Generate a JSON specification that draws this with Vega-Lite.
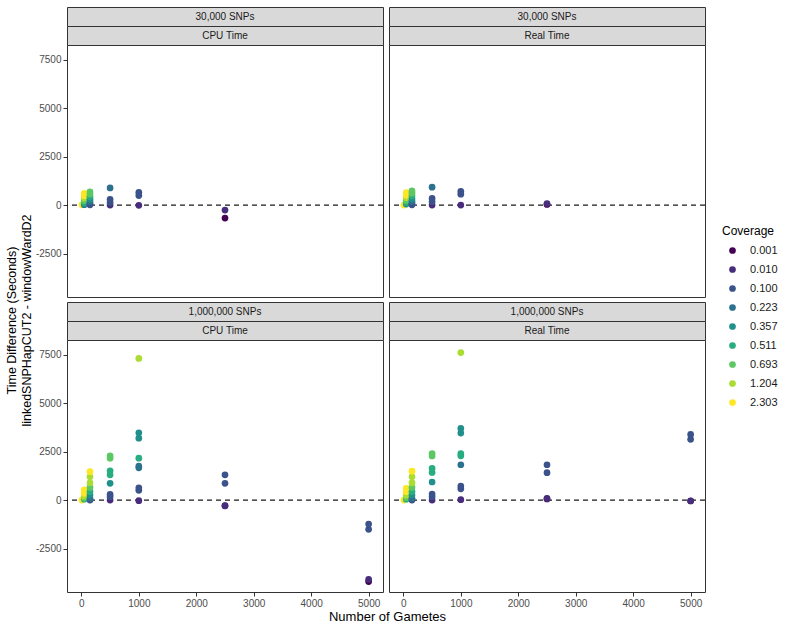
{
  "$schema": "https://vega.github.io/schema/vega-lite/v6.json",
  "padding": {"left": 5, "top": 6, "right": 5, "bottom": 5},
  "config": {
    "font": "Liberation Sans",
    "view": {"stroke": "#333333"},
    "axis": {"grid": false, "domain": false, "tickColor": "#333333", "tickSize": 4, "labelColor": "#4D4D4D", "labelFontSize": 10, "labelPadding": 2, "titleFontSize": 12.5, "titleFontWeight": "normal", "titleColor": "#000000", "titlePadding": 2, "labelExpr": "'' + datum.value"},
    "legend": {"titleFontSize": 12, "titleFontWeight": "normal", "titleColor": "#000000", "labelFontSize": 11, "labelColor": "#1A1A1A", "rowPadding": 7, "titlePadding": 7, "symbolOffset": 5, "labelOffset": 12, "symbolType": "circle", "symbolSize": 45}
  },
  "datasets": {
    "points": [
      {"SNPs": "30,000 SNPs", "Time": "CPU Time", "Gametes": 10, "Coverage": "2.303", "Diff": 10},
      {"SNPs": "30,000 SNPs", "Time": "CPU Time", "Gametes": 50, "Coverage": "0.223", "Diff": 20},
      {"SNPs": "30,000 SNPs", "Time": "CPU Time", "Gametes": 50, "Coverage": "0.357", "Diff": 60},
      {"SNPs": "30,000 SNPs", "Time": "CPU Time", "Gametes": 50, "Coverage": "0.511", "Diff": 130},
      {"SNPs": "30,000 SNPs", "Time": "CPU Time", "Gametes": 50, "Coverage": "0.693", "Diff": 230},
      {"SNPs": "30,000 SNPs", "Time": "CPU Time", "Gametes": 50, "Coverage": "1.204", "Diff": 360},
      {"SNPs": "30,000 SNPs", "Time": "CPU Time", "Gametes": 50, "Coverage": "2.303", "Diff": 480},
      {"SNPs": "30,000 SNPs", "Time": "CPU Time", "Gametes": 50, "Coverage": "2.303", "Diff": 600},
      {"SNPs": "30,000 SNPs", "Time": "CPU Time", "Gametes": 150, "Coverage": "0.100", "Diff": 10},
      {"SNPs": "30,000 SNPs", "Time": "CPU Time", "Gametes": 150, "Coverage": "0.100", "Diff": 80},
      {"SNPs": "30,000 SNPs", "Time": "CPU Time", "Gametes": 150, "Coverage": "0.223", "Diff": 180},
      {"SNPs": "30,000 SNPs", "Time": "CPU Time", "Gametes": 150, "Coverage": "0.357", "Diff": 300},
      {"SNPs": "30,000 SNPs", "Time": "CPU Time", "Gametes": 150, "Coverage": "0.511", "Diff": 440},
      {"SNPs": "30,000 SNPs", "Time": "CPU Time", "Gametes": 150, "Coverage": "0.693", "Diff": 570},
      {"SNPs": "30,000 SNPs", "Time": "CPU Time", "Gametes": 150, "Coverage": "0.693", "Diff": 680},
      {"SNPs": "30,000 SNPs", "Time": "CPU Time", "Gametes": 500, "Coverage": "0.010", "Diff": 0},
      {"SNPs": "30,000 SNPs", "Time": "CPU Time", "Gametes": 500, "Coverage": "0.100", "Diff": 130},
      {"SNPs": "30,000 SNPs", "Time": "CPU Time", "Gametes": 500, "Coverage": "0.100", "Diff": 290},
      {"SNPs": "30,000 SNPs", "Time": "CPU Time", "Gametes": 500, "Coverage": "0.223", "Diff": 880},
      {"SNPs": "30,000 SNPs", "Time": "CPU Time", "Gametes": 1000, "Coverage": "0.010", "Diff": -15},
      {"SNPs": "30,000 SNPs", "Time": "CPU Time", "Gametes": 1000, "Coverage": "0.100", "Diff": 490},
      {"SNPs": "30,000 SNPs", "Time": "CPU Time", "Gametes": 1000, "Coverage": "0.100", "Diff": 650},
      {"SNPs": "30,000 SNPs", "Time": "CPU Time", "Gametes": 2500, "Coverage": "0.010", "Diff": -260},
      {"SNPs": "30,000 SNPs", "Time": "CPU Time", "Gametes": 2500, "Coverage": "0.001", "Diff": -670},

      {"SNPs": "30,000 SNPs", "Time": "Real Time", "Gametes": 10, "Coverage": "2.303", "Diff": 0},
      {"SNPs": "30,000 SNPs", "Time": "Real Time", "Gametes": 50, "Coverage": "0.357", "Diff": 50},
      {"SNPs": "30,000 SNPs", "Time": "Real Time", "Gametes": 50, "Coverage": "0.511", "Diff": 130},
      {"SNPs": "30,000 SNPs", "Time": "Real Time", "Gametes": 50, "Coverage": "0.693", "Diff": 240},
      {"SNPs": "30,000 SNPs", "Time": "Real Time", "Gametes": 50, "Coverage": "1.204", "Diff": 380},
      {"SNPs": "30,000 SNPs", "Time": "Real Time", "Gametes": 50, "Coverage": "2.303", "Diff": 510},
      {"SNPs": "30,000 SNPs", "Time": "Real Time", "Gametes": 50, "Coverage": "2.303", "Diff": 640},
      {"SNPs": "30,000 SNPs", "Time": "Real Time", "Gametes": 150, "Coverage": "0.100", "Diff": 10},
      {"SNPs": "30,000 SNPs", "Time": "Real Time", "Gametes": 150, "Coverage": "0.100", "Diff": 80},
      {"SNPs": "30,000 SNPs", "Time": "Real Time", "Gametes": 150, "Coverage": "0.223", "Diff": 190},
      {"SNPs": "30,000 SNPs", "Time": "Real Time", "Gametes": 150, "Coverage": "0.357", "Diff": 320},
      {"SNPs": "30,000 SNPs", "Time": "Real Time", "Gametes": 150, "Coverage": "0.511", "Diff": 470},
      {"SNPs": "30,000 SNPs", "Time": "Real Time", "Gametes": 150, "Coverage": "0.693", "Diff": 610},
      {"SNPs": "30,000 SNPs", "Time": "Real Time", "Gametes": 150, "Coverage": "0.693", "Diff": 730},
      {"SNPs": "30,000 SNPs", "Time": "Real Time", "Gametes": 500, "Coverage": "0.010", "Diff": 0},
      {"SNPs": "30,000 SNPs", "Time": "Real Time", "Gametes": 500, "Coverage": "0.100", "Diff": 170},
      {"SNPs": "30,000 SNPs", "Time": "Real Time", "Gametes": 500, "Coverage": "0.100", "Diff": 340},
      {"SNPs": "30,000 SNPs", "Time": "Real Time", "Gametes": 500, "Coverage": "0.223", "Diff": 920},
      {"SNPs": "30,000 SNPs", "Time": "Real Time", "Gametes": 1000, "Coverage": "0.010", "Diff": 0},
      {"SNPs": "30,000 SNPs", "Time": "Real Time", "Gametes": 1000, "Coverage": "0.100", "Diff": 560},
      {"SNPs": "30,000 SNPs", "Time": "Real Time", "Gametes": 1000, "Coverage": "0.100", "Diff": 700},
      {"SNPs": "30,000 SNPs", "Time": "Real Time", "Gametes": 2500, "Coverage": "0.001", "Diff": 30},
      {"SNPs": "30,000 SNPs", "Time": "Real Time", "Gametes": 2500, "Coverage": "0.010", "Diff": 80},

      {"SNPs": "1,000,000 SNPs", "Time": "CPU Time", "Gametes": 10, "Coverage": "2.303", "Diff": 0},
      {"SNPs": "1,000,000 SNPs", "Time": "CPU Time", "Gametes": 50, "Coverage": "0.511", "Diff": 40},
      {"SNPs": "1,000,000 SNPs", "Time": "CPU Time", "Gametes": 50, "Coverage": "0.693", "Diff": 100},
      {"SNPs": "1,000,000 SNPs", "Time": "CPU Time", "Gametes": 50, "Coverage": "1.204", "Diff": 200},
      {"SNPs": "1,000,000 SNPs", "Time": "CPU Time", "Gametes": 50, "Coverage": "2.303", "Diff": 350},
      {"SNPs": "1,000,000 SNPs", "Time": "CPU Time", "Gametes": 50, "Coverage": "2.303", "Diff": 520},
      {"SNPs": "1,000,000 SNPs", "Time": "CPU Time", "Gametes": 150, "Coverage": "0.100", "Diff": 0},
      {"SNPs": "1,000,000 SNPs", "Time": "CPU Time", "Gametes": 150, "Coverage": "0.223", "Diff": 90},
      {"SNPs": "1,000,000 SNPs", "Time": "CPU Time", "Gametes": 150, "Coverage": "0.357", "Diff": 260},
      {"SNPs": "1,000,000 SNPs", "Time": "CPU Time", "Gametes": 150, "Coverage": "0.511", "Diff": 430},
      {"SNPs": "1,000,000 SNPs", "Time": "CPU Time", "Gametes": 150, "Coverage": "0.693", "Diff": 650},
      {"SNPs": "1,000,000 SNPs", "Time": "CPU Time", "Gametes": 150, "Coverage": "1.204", "Diff": 890},
      {"SNPs": "1,000,000 SNPs", "Time": "CPU Time", "Gametes": 150, "Coverage": "1.204", "Diff": 1200},
      {"SNPs": "1,000,000 SNPs", "Time": "CPU Time", "Gametes": 150, "Coverage": "2.303", "Diff": 1460},
      {"SNPs": "1,000,000 SNPs", "Time": "CPU Time", "Gametes": 500, "Coverage": "0.010", "Diff": 0},
      {"SNPs": "1,000,000 SNPs", "Time": "CPU Time", "Gametes": 500, "Coverage": "0.100", "Diff": 170},
      {"SNPs": "1,000,000 SNPs", "Time": "CPU Time", "Gametes": 500, "Coverage": "0.100", "Diff": 290},
      {"SNPs": "1,000,000 SNPs", "Time": "CPU Time", "Gametes": 500, "Coverage": "0.357", "Diff": 860},
      {"SNPs": "1,000,000 SNPs", "Time": "CPU Time", "Gametes": 500, "Coverage": "0.511", "Diff": 1300},
      {"SNPs": "1,000,000 SNPs", "Time": "CPU Time", "Gametes": 500, "Coverage": "0.511", "Diff": 1510},
      {"SNPs": "1,000,000 SNPs", "Time": "CPU Time", "Gametes": 500, "Coverage": "0.693", "Diff": 2160},
      {"SNPs": "1,000,000 SNPs", "Time": "CPU Time", "Gametes": 500, "Coverage": "0.693", "Diff": 2280},
      {"SNPs": "1,000,000 SNPs", "Time": "CPU Time", "Gametes": 1000, "Coverage": "0.010", "Diff": -35},
      {"SNPs": "1,000,000 SNPs", "Time": "CPU Time", "Gametes": 1000, "Coverage": "0.100", "Diff": 500},
      {"SNPs": "1,000,000 SNPs", "Time": "CPU Time", "Gametes": 1000, "Coverage": "0.100", "Diff": 630},
      {"SNPs": "1,000,000 SNPs", "Time": "CPU Time", "Gametes": 1000, "Coverage": "0.223", "Diff": 1660},
      {"SNPs": "1,000,000 SNPs", "Time": "CPU Time", "Gametes": 1000, "Coverage": "0.223", "Diff": 1750},
      {"SNPs": "1,000,000 SNPs", "Time": "CPU Time", "Gametes": 1000, "Coverage": "0.511", "Diff": 2160},
      {"SNPs": "1,000,000 SNPs", "Time": "CPU Time", "Gametes": 1000, "Coverage": "0.357", "Diff": 3190},
      {"SNPs": "1,000,000 SNPs", "Time": "CPU Time", "Gametes": 1000, "Coverage": "0.357", "Diff": 3470},
      {"SNPs": "1,000,000 SNPs", "Time": "CPU Time", "Gametes": 1000, "Coverage": "1.204", "Diff": 7300},
      {"SNPs": "1,000,000 SNPs", "Time": "CPU Time", "Gametes": 2500, "Coverage": "0.001", "Diff": -300},
      {"SNPs": "1,000,000 SNPs", "Time": "CPU Time", "Gametes": 2500, "Coverage": "0.010", "Diff": -290},
      {"SNPs": "1,000,000 SNPs", "Time": "CPU Time", "Gametes": 2500, "Coverage": "0.100", "Diff": 860},
      {"SNPs": "1,000,000 SNPs", "Time": "CPU Time", "Gametes": 2500, "Coverage": "0.100", "Diff": 1300},
      {"SNPs": "1,000,000 SNPs", "Time": "CPU Time", "Gametes": 5000, "Coverage": "0.001", "Diff": -4200},
      {"SNPs": "1,000,000 SNPs", "Time": "CPU Time", "Gametes": 5000, "Coverage": "0.010", "Diff": -4090},
      {"SNPs": "1,000,000 SNPs", "Time": "CPU Time", "Gametes": 5000, "Coverage": "0.100", "Diff": -1510},
      {"SNPs": "1,000,000 SNPs", "Time": "CPU Time", "Gametes": 5000, "Coverage": "0.100", "Diff": -1240},

      {"SNPs": "1,000,000 SNPs", "Time": "Real Time", "Gametes": 10, "Coverage": "2.303", "Diff": 0},
      {"SNPs": "1,000,000 SNPs", "Time": "Real Time", "Gametes": 50, "Coverage": "0.511", "Diff": 40},
      {"SNPs": "1,000,000 SNPs", "Time": "Real Time", "Gametes": 50, "Coverage": "0.693", "Diff": 120},
      {"SNPs": "1,000,000 SNPs", "Time": "Real Time", "Gametes": 50, "Coverage": "1.204", "Diff": 250},
      {"SNPs": "1,000,000 SNPs", "Time": "Real Time", "Gametes": 50, "Coverage": "2.303", "Diff": 430},
      {"SNPs": "1,000,000 SNPs", "Time": "Real Time", "Gametes": 50, "Coverage": "2.303", "Diff": 600},
      {"SNPs": "1,000,000 SNPs", "Time": "Real Time", "Gametes": 150, "Coverage": "0.100", "Diff": 0},
      {"SNPs": "1,000,000 SNPs", "Time": "Real Time", "Gametes": 150, "Coverage": "0.223", "Diff": 90},
      {"SNPs": "1,000,000 SNPs", "Time": "Real Time", "Gametes": 150, "Coverage": "0.357", "Diff": 260},
      {"SNPs": "1,000,000 SNPs", "Time": "Real Time", "Gametes": 150, "Coverage": "0.511", "Diff": 430},
      {"SNPs": "1,000,000 SNPs", "Time": "Real Time", "Gametes": 150, "Coverage": "0.693", "Diff": 650},
      {"SNPs": "1,000,000 SNPs", "Time": "Real Time", "Gametes": 150, "Coverage": "1.204", "Diff": 890},
      {"SNPs": "1,000,000 SNPs", "Time": "Real Time", "Gametes": 150, "Coverage": "1.204", "Diff": 1200},
      {"SNPs": "1,000,000 SNPs", "Time": "Real Time", "Gametes": 150, "Coverage": "2.303", "Diff": 1490},
      {"SNPs": "1,000,000 SNPs", "Time": "Real Time", "Gametes": 500, "Coverage": "0.010", "Diff": 0},
      {"SNPs": "1,000,000 SNPs", "Time": "Real Time", "Gametes": 500, "Coverage": "0.100", "Diff": 170},
      {"SNPs": "1,000,000 SNPs", "Time": "Real Time", "Gametes": 500, "Coverage": "0.100", "Diff": 310},
      {"SNPs": "1,000,000 SNPs", "Time": "Real Time", "Gametes": 500, "Coverage": "0.357", "Diff": 930},
      {"SNPs": "1,000,000 SNPs", "Time": "Real Time", "Gametes": 500, "Coverage": "0.511", "Diff": 1420},
      {"SNPs": "1,000,000 SNPs", "Time": "Real Time", "Gametes": 500, "Coverage": "0.511", "Diff": 1630},
      {"SNPs": "1,000,000 SNPs", "Time": "Real Time", "Gametes": 500, "Coverage": "0.693", "Diff": 2270},
      {"SNPs": "1,000,000 SNPs", "Time": "Real Time", "Gametes": 500, "Coverage": "0.693", "Diff": 2400},
      {"SNPs": "1,000,000 SNPs", "Time": "Real Time", "Gametes": 1000, "Coverage": "0.010", "Diff": 17},
      {"SNPs": "1,000,000 SNPs", "Time": "Real Time", "Gametes": 1000, "Coverage": "0.100", "Diff": 580},
      {"SNPs": "1,000,000 SNPs", "Time": "Real Time", "Gametes": 1000, "Coverage": "0.100", "Diff": 720},
      {"SNPs": "1,000,000 SNPs", "Time": "Real Time", "Gametes": 1000, "Coverage": "0.223", "Diff": 1820},
      {"SNPs": "1,000,000 SNPs", "Time": "Real Time", "Gametes": 1000, "Coverage": "0.511", "Diff": 2280},
      {"SNPs": "1,000,000 SNPs", "Time": "Real Time", "Gametes": 1000, "Coverage": "0.511", "Diff": 2400},
      {"SNPs": "1,000,000 SNPs", "Time": "Real Time", "Gametes": 1000, "Coverage": "0.357", "Diff": 3450},
      {"SNPs": "1,000,000 SNPs", "Time": "Real Time", "Gametes": 1000, "Coverage": "0.357", "Diff": 3690},
      {"SNPs": "1,000,000 SNPs", "Time": "Real Time", "Gametes": 1000, "Coverage": "1.204", "Diff": 7600},
      {"SNPs": "1,000,000 SNPs", "Time": "Real Time", "Gametes": 2500, "Coverage": "0.001", "Diff": 60},
      {"SNPs": "1,000,000 SNPs", "Time": "Real Time", "Gametes": 2500, "Coverage": "0.010", "Diff": 86},
      {"SNPs": "1,000,000 SNPs", "Time": "Real Time", "Gametes": 2500, "Coverage": "0.100", "Diff": 1410},
      {"SNPs": "1,000,000 SNPs", "Time": "Real Time", "Gametes": 2500, "Coverage": "0.100", "Diff": 1820},
      {"SNPs": "1,000,000 SNPs", "Time": "Real Time", "Gametes": 5000, "Coverage": "0.001", "Diff": -50},
      {"SNPs": "1,000,000 SNPs", "Time": "Real Time", "Gametes": 5000, "Coverage": "0.010", "Diff": -36},
      {"SNPs": "1,000,000 SNPs", "Time": "Real Time", "Gametes": 5000, "Coverage": "0.100", "Diff": 3130},
      {"SNPs": "1,000,000 SNPs", "Time": "Real Time", "Gametes": 5000, "Coverage": "0.100", "Diff": 3380}
    ]
  },
  "columns": 2,
  "spacing": {"row": 0, "column": 6},
  "bounds": "flush",
  "resolve": {"scale": {"color": "shared"}},
  "concat": [
    {"width": 316, "height": 19, "view": {"fill": "#D9D9D9", "stroke": "#333333"}, "data": {"values": [{"label": "30,000 SNPs"}]}, "mark": {"type": "text", "fontSize": 10, "color": "#1A1A1A"}, "encoding": {"text": {"field": "label"}}},
    {"width": 316, "height": 19, "view": {"fill": "#D9D9D9", "stroke": "#333333"}, "data": {"values": [{"label": "30,000 SNPs"}]}, "mark": {"type": "text", "fontSize": 10, "color": "#1A1A1A"}, "encoding": {"text": {"field": "label"}}},
    {"width": 316, "height": 19, "view": {"fill": "#D9D9D9", "stroke": "#333333"}, "data": {"values": [{"label": "CPU Time"}]}, "mark": {"type": "text", "fontSize": 10, "color": "#1A1A1A"}, "encoding": {"text": {"field": "label"}}},
    {"width": 316, "height": 19, "view": {"fill": "#D9D9D9", "stroke": "#333333"}, "data": {"values": [{"label": "Real Time"}]}, "mark": {"type": "text", "fontSize": 10, "color": "#1A1A1A"}, "encoding": {"text": {"field": "label"}}},
    {
      "width": 316, "height": 252, "view": {"stroke": "#333333", "fill": "white"},
      "layer": [
        {"data": {"values": [{}]}, "mark": {"type": "rule", "strokeDash": [5, 4], "color": "#1A1A1A", "strokeWidth": 1.2}, "encoding": {"y": {"datum": 0, "type": "quantitative", "scale": {"domain": [-4740, 8250], "nice": false, "zero": false}, "axis": {"values": [-2500, 0, 2500, 5000, 7500], "title": null}}}},
        {"data": {"name": "points"}, "transform": [{"filter": "datum.SNPs == '30,000 SNPs' && datum.Time == 'CPU Time'"}],
         "mark": {"type": "circle", "size": 45, "opacity": 1},
         "encoding": {
           "x": {"field": "Gametes", "type": "quantitative", "scale": {"domain": [-250, 5250], "nice": false, "zero": false}, "axis": null},
           "y": {"field": "Diff", "type": "quantitative", "scale": {"domain": [-4740, 8250], "nice": false, "zero": false}, "axis": {"values": [-2500, 0, 2500, 5000, 7500], "title": null}},
           "color": {"field": "Coverage", "type": "ordinal", "scale": {"domain": ["0.001", "0.010", "0.100", "0.223", "0.357", "0.511", "0.693", "1.204", "2.303"], "range": ["#440154", "#472D7B", "#3B528B", "#2C728E", "#21908C", "#27AD81", "#5DC863", "#AADC32", "#FDE725"]}, "legend": {"title": "Coverage", "orient": "none", "legendX": 655, "legendY": 219}}
         }}
      ]
    },
    {
      "width": 316, "height": 252, "view": {"stroke": "#333333", "fill": "white"},
      "layer": [
        {"data": {"values": [{}]}, "mark": {"type": "rule", "strokeDash": [5, 4], "color": "#1A1A1A", "strokeWidth": 1.2}, "encoding": {"y": {"datum": 0, "type": "quantitative", "scale": {"domain": [-4740, 8250], "nice": false, "zero": false}, "axis": null}}},
        {"data": {"name": "points"}, "transform": [{"filter": "datum.SNPs == '30,000 SNPs' && datum.Time == 'Real Time'"}],
         "mark": {"type": "circle", "size": 45, "opacity": 1},
         "encoding": {
           "x": {"field": "Gametes", "type": "quantitative", "scale": {"domain": [-250, 5250], "nice": false, "zero": false}, "axis": null},
           "y": {"field": "Diff", "type": "quantitative", "scale": {"domain": [-4740, 8250], "nice": false, "zero": false}, "axis": null},
           "color": {"field": "Coverage", "type": "ordinal"}
         }}
      ]
    },
    {"width": 316, "height": 5, "view": {"stroke": null}, "data": {"values": [{}]}, "mark": "text", "encoding": {"text": {"value": ""}}},
    {"width": 316, "height": 5, "view": {"stroke": null}, "data": {"values": [{}]}, "mark": "text", "encoding": {"text": {"value": ""}}},
    {"width": 316, "height": 19, "view": {"fill": "#D9D9D9", "stroke": "#333333"}, "data": {"values": [{"label": "1,000,000 SNPs"}]}, "mark": {"type": "text", "fontSize": 10, "color": "#1A1A1A"}, "encoding": {"text": {"field": "label"}}},
    {"width": 316, "height": 19, "view": {"fill": "#D9D9D9", "stroke": "#333333"}, "data": {"values": [{"label": "1,000,000 SNPs"}]}, "mark": {"type": "text", "fontSize": 10, "color": "#1A1A1A"}, "encoding": {"text": {"field": "label"}}},
    {"width": 316, "height": 19, "view": {"fill": "#D9D9D9", "stroke": "#333333"}, "data": {"values": [{"label": "CPU Time"}]}, "mark": {"type": "text", "fontSize": 10, "color": "#1A1A1A"}, "encoding": {"text": {"field": "label"}}},
    {"width": 316, "height": 19, "view": {"fill": "#D9D9D9", "stroke": "#333333"}, "data": {"values": [{"label": "Real Time"}]}, "mark": {"type": "text", "fontSize": 10, "color": "#1A1A1A"}, "encoding": {"text": {"field": "label"}}},
    {
      "width": 316, "height": 252, "view": {"stroke": "#333333", "fill": "white"},
      "layer": [
        {"data": {"values": [{}]}, "mark": {"type": "rule", "strokeDash": [5, 4], "color": "#1A1A1A", "strokeWidth": 1.2}, "encoding": {"y": {"datum": 0, "type": "quantitative", "scale": {"domain": [-4740, 8250], "nice": false, "zero": false}, "axis": {"values": [-2500, 0, 2500, 5000, 7500], "title": ["Time Difference (Seconds)", "linkedSNPHapCUT2 - windowWardD2"], "titleY": -20}}}},
        {"data": {"name": "points"}, "transform": [{"filter": "datum.SNPs == '1,000,000 SNPs' && datum.Time == 'CPU Time'"}],
         "mark": {"type": "circle", "size": 45, "opacity": 1},
         "encoding": {
           "x": {"field": "Gametes", "type": "quantitative", "scale": {"domain": [-250, 5250], "nice": false, "zero": false}, "axis": {"values": [0, 1000, 2000, 3000, 4000, 5000], "title": "Number of Gametes", "titleX": 320, "titleFontSize": 13}},
           "y": {"field": "Diff", "type": "quantitative", "scale": {"domain": [-4740, 8250], "nice": false, "zero": false}, "axis": {"values": [-2500, 0, 2500, 5000, 7500], "title": ["Time Difference (Seconds)", "linkedSNPHapCUT2 - windowWardD2"], "titleY": -20}},
           "color": {"field": "Coverage", "type": "ordinal"}
         }}
      ]
    },
    {
      "width": 316, "height": 252, "view": {"stroke": "#333333", "fill": "white"},
      "layer": [
        {"data": {"values": [{}]}, "mark": {"type": "rule", "strokeDash": [5, 4], "color": "#1A1A1A", "strokeWidth": 1.2}, "encoding": {"y": {"datum": 0, "type": "quantitative", "scale": {"domain": [-4740, 8250], "nice": false, "zero": false}, "axis": null}}},
        {"data": {"name": "points"}, "transform": [{"filter": "datum.SNPs == '1,000,000 SNPs' && datum.Time == 'Real Time'"}],
         "mark": {"type": "circle", "size": 45, "opacity": 1},
         "encoding": {
           "x": {"field": "Gametes", "type": "quantitative", "scale": {"domain": [-250, 5250], "nice": false, "zero": false}, "axis": {"values": [0, 1000, 2000, 3000, 4000, 5000], "title": null}},
           "y": {"field": "Diff", "type": "quantitative", "scale": {"domain": [-4740, 8250], "nice": false, "zero": false}, "axis": null},
           "color": {"field": "Coverage", "type": "ordinal"}
         }}
      ]
    }
  ]
}
